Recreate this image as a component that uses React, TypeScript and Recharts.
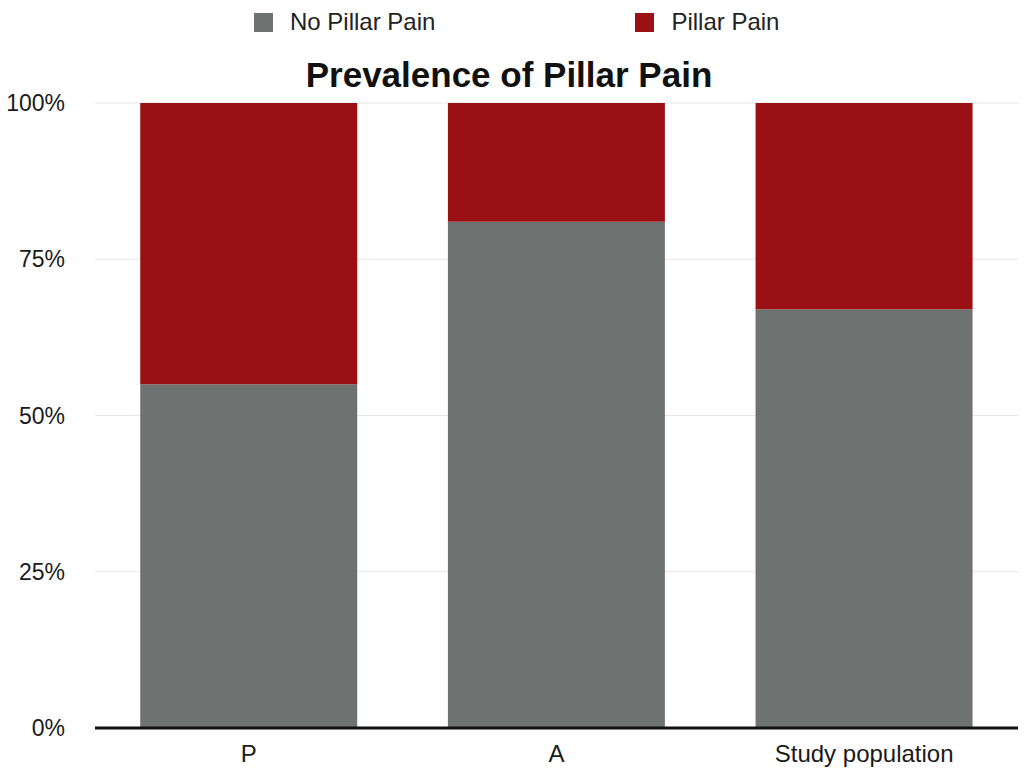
import React from 'react'
import { BarChart, Bar, XAxis, YAxis, CartesianGrid } from 'recharts'

const groups = ['P', 'A', 'Study population']
const noPillarPain = [55, 81, 67]
const pillarPain = [45, 19, 33]
const yTicks = [0, 25, 50, 75, 100]
const legendItems = ['No Pillar Pain', 'Pillar Pain']

const GRAY = '#6e7271'
const RED = '#9a1014'
const FONT = '"Liberation Sans", Arial, Helvetica, sans-serif'

const data = groups.map((g, i) => ({
  group: g,
  noPain: noPillarPain[i],
  pain: pillarPain[i],
}))

const colors = [GRAY, RED]

export default function App() {
  return (
    <div style={{ position: 'absolute', left: 0, top: 0, width: 1024, height: 776, background: '#fff', fontFamily: FONT }}>
      {/* legend, drawn by hand so the wide spacing matches */}
      <div style={{ position: 'absolute', top: 10, left: 254, display: 'flex', gap: 200, fontSize: 24, lineHeight: '24px', color: '#222' }}>
        {legendItems.map((name, i) => (
          <div key={name} style={{ display: 'flex', alignItems: 'center', gap: 17, height: 24 }}>
            <div style={{ width: 19, height: 19, background: colors[i] }} />
            <span>{name}</span>
          </div>
        ))}
      </div>
      <div
        style={{
          position: 'absolute',
          top: 57,
          left: 0,
          width: 1018,
          textAlign: 'center',
          fontWeight: 'bold',
          fontSize: 35,
          lineHeight: '35px',
          color: '#111',
        }}
      >
        Prevalence of Pillar Pain
      </div>
      <BarChart
        width={1024}
        height={776}
        data={data}
        margin={{ top: 103, right: 6, bottom: 18, left: 0 }}
        barCategoryGap="14.7%"
      >
        <CartesianGrid vertical={false} stroke="#e6e6e6" />
        <XAxis
          dataKey="group"
          tickLine={false}
          axisLine={{ stroke: '#111', strokeWidth: 3 }}
          tickMargin={11}
          tick={{ fill: '#1a1a1a', fontSize: 24, fontFamily: FONT }}
        />
        <YAxis
          width={95}
          domain={[0, 100]}
          ticks={yTicks}
          tickFormatter={(v) => `${v}%`}
          axisLine={false}
          tickLine={false}
          tickMargin={24}
          tick={{ fill: '#1a1a1a', fontSize: 23, fontFamily: FONT }}
        />
        <Bar dataKey="noPain" name="No Pillar Pain" stackId="a" fill={GRAY} isAnimationActive={false} />
        <Bar dataKey="pain" name="Pillar Pain" stackId="a" fill={RED} isAnimationActive={false} />
      </BarChart>
    </div>
  )
}
